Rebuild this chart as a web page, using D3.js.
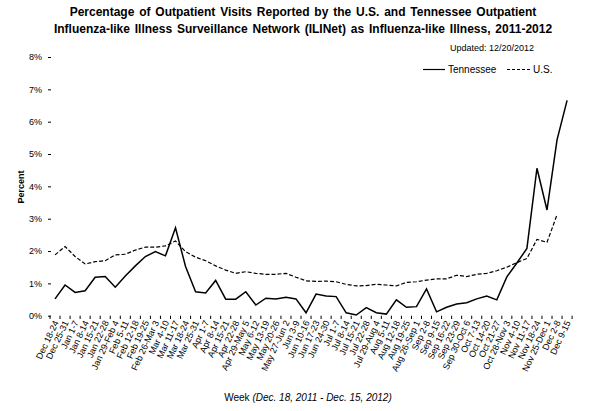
<!DOCTYPE html>
<html><head><meta charset="utf-8">
<script src="https://cdn.jsdelivr.net/npm/d3@7"></script>
<style>
body{margin:0;background:#fff}
svg{display:block}
text{font-family:"Liberation Sans",Arial,Helvetica,sans-serif;fill:#000}
</style>
</head><body>
<svg id="c" width="603" height="411"></svg>
<script>
const weeks = ["Dec 18-24","Dec 25-31","Jan 1-7","Jan 8-14","Jan 15-21","Jan 22-28","Jan 29-Feb 4","Feb 5-11","Feb 12-18","Feb 19-25","Feb 26-Mar 3","Mar 4-10","Mar 11-17","Mar 18-24","Mar 25-31","Apr 1-7","Apr 8-14","Apr 15-21","Apr 22-28","Apr 29-May 5","May 6-12","May 13-19","May 20-26","May 27-Jun 2","Jun 3-9","Jun 10-16","Jun 17-23","Jun 24-30","Jul 1-7","Jul 8-14","Jul 15-21","Jul 22-28","Jul 29-Aug 4","Aug 5-11","Aug 12-18","Aug 19-25","Aug 26-Sep 1","Sep 2-8","Sep 9-15","Sep 16-22","Sep 23-29","Sep 30-Oct 6","Oct 7-13","Oct 14-20","Oct 21-27","Oct 28-Nov 3","Nov 4-10","Nov 11-17","Nov 18-24","Nov 25-Dec 1","Dec 2-8","Dec 9-15"];
const tennessee = [0.52,0.95,0.72,0.77,1.19,1.21,0.88,1.23,1.54,1.83,1.98,1.85,2.72,1.52,0.74,0.70,1.09,0.51,0.51,0.74,0.33,0.54,0.52,0.57,0.52,0.09,0.67,0.61,0.59,0.09,0.02,0.25,0.09,0.05,0.49,0.26,0.28,0.83,0.12,0.26,0.36,0.40,0.52,0.61,0.49,1.20,1.63,2.08,4.56,3.27,5.44,6.66];
const us = [1.88,2.14,1.83,1.60,1.67,1.70,1.88,1.90,2.03,2.12,2.12,2.16,2.31,1.98,1.81,1.70,1.54,1.41,1.31,1.36,1.31,1.28,1.28,1.31,1.19,1.08,1.06,1.07,1.05,0.97,0.92,0.93,0.97,0.95,0.92,1.03,1.05,1.10,1.14,1.14,1.25,1.21,1.28,1.31,1.39,1.50,1.64,1.77,2.36,2.27,3.12,null];
const yTicks = [0,1,2,3,4,5,6,7,8];
const titleLines = ["Percentage of Outpatient Visits Reported by the U.S. and Tennessee Outpatient","Influenza-like Illness Surveillance Network (ILINet) as Influenza-like Illness, 2011-2012"];
const seriesNames = ["Tennessee","U.S."];

const svg = d3.select("#c");
const x = d3.scaleBand().domain(weeks).range([50, 572.1]).padding(0);
const y = d3.scaleLinear().domain([0, 8]).range([315.7, 57]);
const cx = d => x(d) + x.bandwidth() / 2;

// title
svg.append("g").selectAll("text").data(titleLines).join("text")
  .attr("x", 303).attr("y", (d, i) => 16 + i * 16.5)
  .attr("text-anchor", "middle").attr("font-size", 12).attr("font-weight", "bold")
  .attr("word-spacing", 1.5)
  .text(d => d);

svg.append("text").attr("x", 450).attr("y", 51).attr("font-size", 9)
  .text("Updated: 12/20/2012");

// y axis
const yAxis = d3.axisLeft(y).tickValues(yTicks).tickFormat(d => d + "%").tickSize(3).tickPadding(6);
const gy = svg.append("g").attr("transform", "translate(51,0)").call(yAxis);
gy.select(".domain").remove();
gy.selectAll("text").attr("font-size", 9).style("font-family", '"Liberation Sans",Arial,sans-serif');
gy.selectAll("line").attr("stroke", "#000");

svg.append("text").attr("transform", "translate(24,187) rotate(-90)")
  .attr("text-anchor", "middle").attr("font-size", 9).attr("font-weight", "bold")
  .text("Percent");

// x axis ticks between categories
const gx = svg.append("g");
gx.selectAll("line").data(weeks.concat(["__end"])).join("line")
  .attr("x1", (d, i) => 50 + i * x.step()).attr("x2", (d, i) => 50 + i * x.step())
  .attr("y1", 315.7).attr("y2", 319).attr("stroke", "#000").attr("stroke-width", 1);
gx.selectAll("text").data(weeks).join("text")
  .attr("transform", d => `translate(${cx(d) + 1},321) rotate(-65)`)
  .attr("text-anchor", "end").attr("dy", "0.35em")
  .attr("font-size", 9)
  .text(d => d);

const xt = svg.append("text").attr("x", 308).attr("y", 401).attr("text-anchor", "middle").attr("font-size", 10);
xt.append("tspan").text("Week ");
xt.append("tspan").attr("font-style", "italic").text("(Dec. 18, 2011 - Dec. 15, 2012)");

// lines
const line = d3.line().defined(d => d.v != null).x(d => cx(d.w)).y(d => y(d.v));
svg.append("path").datum(weeks.map((w, i) => ({w, v: us[i]})))
  .attr("d", line).attr("fill", "none").attr("stroke", "#000").attr("stroke-width", 1.2)
  .attr("stroke-dasharray", "4,2");
svg.append("path").datum(weeks.map((w, i) => ({w, v: tennessee[i]})))
  .attr("d", line).attr("fill", "none").attr("stroke", "#000").attr("stroke-width", 1.5);

// legend
const lg = svg.append("g");
lg.append("line").attr("x1", 423).attr("x2", 445).attr("y1", 69.5).attr("y2", 69.5).attr("stroke", "#000").attr("stroke-width", 1.2);
lg.append("text").attr("x", 448).attr("y", 73).attr("font-size", 10).text(seriesNames[0]);
lg.append("line").attr("x1", 507).attr("x2", 531).attr("y1", 69.5).attr("y2", 69.5).attr("stroke", "#000").attr("stroke-width", 1.2).attr("stroke-dasharray", "3,2");
lg.append("text").attr("x", 533).attr("y", 73).attr("font-size", 10).text(seriesNames[1]);
</script>
</body></html>
